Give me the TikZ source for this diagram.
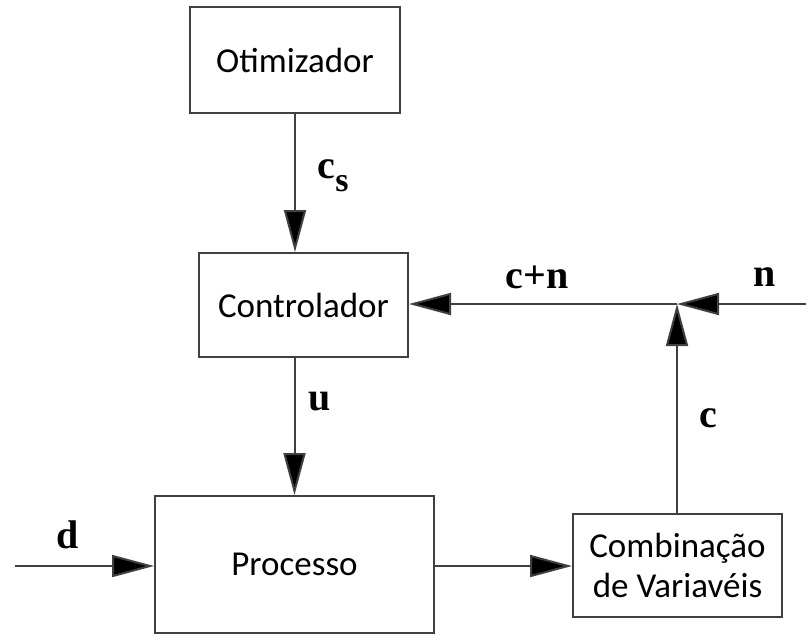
\documentclass[tikz,border=0pt]{standalone}
\usepackage{fontspec}
\setmainfont{Carlito}
\newfontfamily\lblfont{Liberation Serif}
\usetikzlibrary{arrows.meta}

\begin{document}
\begin{tikzpicture}[x=0.5pt,y=-0.5pt,
  box/.style={draw=black!75,line width=1pt,inner sep=0pt,align=center,
    font=\fontsize{17.5}{20}\selectfont},
  lbl/.style={font=\fontsize{20}{24}\selectfont\lblfont\bfseries},
  flow/.style={draw=black!75,line width=1pt,
    -{Triangle[length=21pt,width=11pt,fill=black]}}]
\useasboundingbox (0,0) rectangle (806,634);
\clip (0,0) rectangle (806,634);

% blocks
\node[box,minimum width=105pt,minimum height=53pt] (otim) at (295,60) {Otimizador};
\node[box,minimum width=104.5pt,minimum height=52pt] (ctrl) at (303.5,305) {Controlador};
\node[box,minimum width=139.5pt,minimum height=68.5pt] (proc) at (294.5,564.5) {Processo};
\node[box,minimum width=104.5pt,minimum height=51.5pt] (comb) at (677.5,565.5) {Combinação\\de Variavéis};

\coordinate (junc) at (677,304);
\coordinate (nin) at (806,304);
\coordinate (din) at (15,566);

% signals
\draw[flow] (otim.south) -- (otim.south |- ctrl.north);
\draw[flow] (proc.north |- ctrl.south) -- (proc.north);
\draw[flow] (din) -- (din -| proc.west);
\draw[flow] (din -| proc.east) -- (din -| comb.west);
\draw[flow] (comb.north -| junc) -- (junc);
\draw[flow] (nin) -- (junc);
\draw[flow] (junc) -- (junc -| ctrl.east);

\node[lbl] (lcs) at (333,176) {c\raisebox{-0.7ex}{\fontsize{17}{20}\selectfont s}};
\node[lbl] (lu) at (320,402) {u};
\node[lbl] (lcn) at (537,277) {c+n};
\node[lbl] (ln) at (765,277) {n};
\node[lbl] (lc) at (708,418) {c};
\node[lbl] (ld) at (68,535) {d};
\end{tikzpicture}
\end{document}
